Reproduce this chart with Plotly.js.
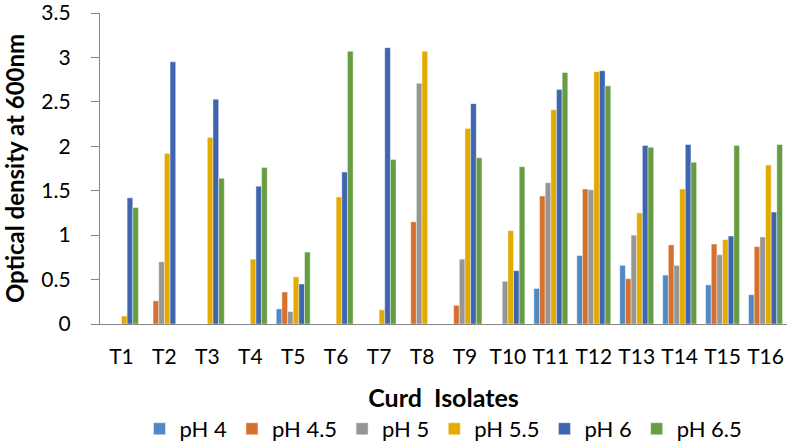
<!DOCTYPE html>
<html>
<head>
<meta charset="utf-8">
<script src="https://cdn.plot.ly/plotly-3.0.1.min.js"></script>
<style>html,body{margin:0;padding:0;background:#fff;}#chart{width:787px;height:446px;}</style>
</head>
<body>
<div id="chart"></div>
<script>
var categories = ["T1","T2","T3","T4","T5","T6","T7","T8","T9","T10","T11","T12","T13","T14","T15","T16"];
var seriesNames = ["pH 4","pH 4.5","pH 5","pH 5.5","pH 6","pH 6.5"];
var pH4   = [0,    0,    0,    0,    0.17, 0,    0,    0,    0,    0,    0.40, 0.77, 0.66, 0.55, 0.44, 0.33];
var pH4_5 = [0,    0.26, 0,    0,    0.36, 0,    0,    1.15, 0.21, 0,    1.44, 1.52, 0.51, 0.89, 0.90, 0.87];
var pH5   = [0,    0.70, 0,    0,    0.14, 0,    0,    2.71, 0.73, 0.48, 1.59, 1.51, 1.00, 0.66, 0.78, 0.98];
var pH5_5 = [0.09, 1.92, 2.10, 0.73, 0.53, 1.43, 0.16, 3.07, 2.20, 1.05, 2.41, 2.84, 1.25, 1.52, 0.95, 1.79];
var pH6   = [1.42, 2.95, 2.53, 1.55, 0.45, 1.71, 3.11, 0,    2.48, 0.60, 2.64, 2.85, 2.01, 2.02, 0.99, 1.26];
var pH6_5 = [1.31, 0,    1.64, 1.76, 0.81, 3.07, 1.85, 0,    1.87, 1.77, 2.83, 2.68, 1.99, 1.82, 2.01, 2.02];
var seriesValues = [pH4, pH4_5, pH5, pH5_5, pH6, pH6_5];
var colors = ["#5189C5","#D5702E","#969696","#E3AA00","#3E65AE","#679D42"];

var traces = seriesValues.map(function(v, i){
  return {
    type: "bar",
    name: seriesNames[i],
    x: categories,
    y: v,
    marker: {color: colors[i], line: {color: "rgba(255,255,255,0.7)", width: 0.6}},
    hoverinfo: "x+y+name"
  };
});

var layout = {
  width: 787, height: 446,
  margin: {l: 100, r: 0, t: 13, b: 122, autoexpand: false},
  paper_bgcolor: "#fff", plot_bgcolor: "#fff",
  font: {family: "Lato, 'Liberation Sans', sans-serif", color: "#000", size: 21},
  barmode: "group",
  bargap: 0.21,
  bargroupgap: 0,
  showlegend: true,
  legend: {
    orientation: "h",
    x: 0.5, xanchor: "center",
    y: -0.27, yanchor: "top",
    font: {size: 22, color: "#000"},
    itemwidth: 30,
    traceorder: "normal"
  },
  xaxis: {
    type: "category",
    automargin: false,
    showline: true, linecolor: "#868686", linewidth: 1,
    ticks: "", showgrid: false, zeroline: false,
    tickfont: {size: 21},
    ticklabelstandoff: 14,
    title: {text: "Curd&nbsp;&nbsp;Isolates", font: {size: 25, family: "Lato, sans-serif", weight: "bold"}, standoff: 22}
  },
  yaxis: {
    automargin: false,
    range: [0, 3.5], dtick: 0.5,
    showline: true, linecolor: "#868686", linewidth: 1,
    ticks: "outside", ticklen: 8, tickcolor: "#868686",
    showgrid: false, zeroline: false,
    tickfont: {size: 21},
    ticklabeloverflow: "allow",
    ticksuffix: "\u00a0\u00a0\u00a0",
    title: {text: "Optical density at 600nm", font: {size: 24, family: "Lato, sans-serif", weight: "bold"}, standoff: 10}
  }
};

Plotly.newPlot("chart", traces, layout, {displayModeBar: false, staticPlot: true});
</script>
</body>
</html>
